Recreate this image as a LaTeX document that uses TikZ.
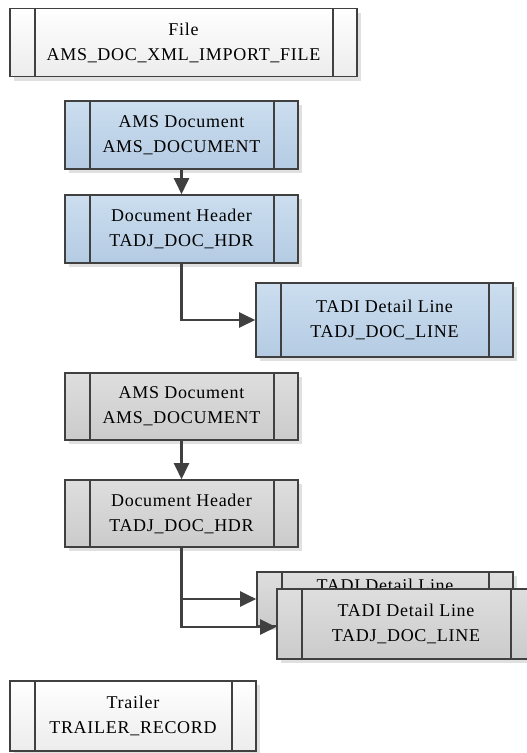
\documentclass[tikz,border=0pt]{standalone}
\usepackage{fontspec}
\setmainfont{Liberation Serif}[LetterSpace=4]
\usetikzlibrary{arrows.meta,shadows}

\definecolor{edge}{HTML}{404040}
\definecolor{blueTop}{RGB}{204,222,239}
\definecolor{blueBot}{RGB}{180,203,227}
\definecolor{grayTop}{RGB}{222,222,222}
\definecolor{grayBot}{RGB}{203,203,203}
\definecolor{whiteBot}{RGB}{236,236,236}

\tikzset{
  % record box with a narrow strip at each end
  rec/.style={draw=edge, line width=1.6pt, inner sep=0pt, align=center,
    minimum height=68pt,
    font=\fontsize{18}{25}\selectfont,
    drop shadow={shadow xshift=4pt, shadow yshift=-4pt, fill=black!12, opacity=1},
    path picture={
      \draw[edge, line width=1.6pt]
        ([xshift=25pt]path picture bounding box.north west) --
        ([xshift=25pt]path picture bounding box.south west)
        ([xshift=-24pt]path picture bounding box.north east) --
        ([xshift=-24pt]path picture bounding box.south east);
    }},
  whitebox/.style={rec, top color=white, bottom color=whiteBot},
  bluebox/.style={rec, top color=blueTop, bottom color=blueBot},
  graybox/.style={rec, top color=grayTop, bottom color=grayBot},
  conn/.style={draw=edge, line width=2.3pt,
    -{Triangle[length=16pt,width=15pt]}}
}

\begin{document}
\begin{tikzpicture}[x=1pt, y=-1pt]
  \useasboundingbox (0,0) rectangle (527,753);

  % input file
  \node[whitebox, minimum width=347pt] (file) at (183.5,42.5)
    {File\\AMS\_DOC\_XML\_IMPORT\_FILE};

  % first document block
  \node[bluebox, minimum width=233pt] (amsA) at (181.5,135)
    {AMS Document\\AMS\_DOCUMENT};
  \node[bluebox, minimum width=233pt] (hdrA) at (181.5,229)
    {Document Header\\TADJ\_DOC\_HDR};
  \node[bluebox, minimum width=257pt, minimum height=74pt] (lineA) at (384.5,320)
    {TADI Detail Line\\TADJ\_DOC\_LINE};

  % second document block
  \node[graybox, minimum width=233pt, minimum height=67pt] (amsB) at (181.5,406.5)
    {AMS Document\\AMS\_DOCUMENT};
  \node[graybox, minimum width=233pt, minimum height=67pt] (hdrB) at (181.5,513.5)
    {Document Header\\TADJ\_DOC\_HDR};
  \node[graybox, minimum width=256pt, minimum height=54pt] (lineB) at (385,599)
    {TADI Detail Line\\TADJ\_DOC\_LINE};
  \node[graybox, minimum width=258pt, minimum height=70pt] (lineC) at (406,624)
    {TADI Detail Line\\TADJ\_DOC\_LINE};

  % trailer
  \node[whitebox, minimum width=246pt, minimum height=70pt] (trailer) at (133,716)
    {Trailer\\TRAILER\_RECORD};

  % connectors
  \draw[conn] (amsA) -- (hdrA);
  \draw[conn] (hdrA.south) |- (lineA.west);
  \draw[conn] (amsB) -- (hdrB);
  \draw[conn] (hdrB.south) |- (lineB.west);
  \draw[conn] (hdrB.south) |- ([yshift=-3pt]lineC.west);
\end{tikzpicture}
\end{document}
